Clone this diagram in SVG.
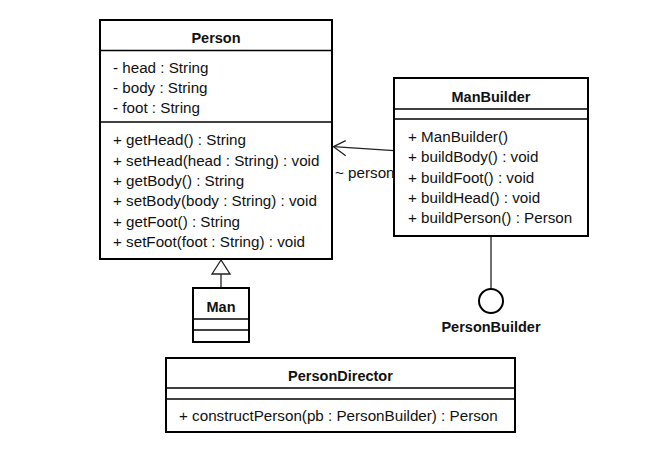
<svg xmlns="http://www.w3.org/2000/svg" width="668" height="456" viewBox="0 0 668 456">
<style>
.box{fill:#fff;stroke:#000;stroke-width:2}
.sep{stroke:#000;stroke-width:1.3;fill:none}
.t{font-family:"Liberation Sans",Arial,sans-serif;font-size:15.2px;fill:#111}
.b{font-family:"Liberation Sans",Arial,sans-serif;font-size:14.5px;font-weight:bold;fill:#111;text-anchor:middle}
.ln{stroke:#222;stroke-width:1.3;fill:none}
</style>
<rect width="668" height="456" fill="#fff"/>
<g id="connectors">
<line class="ln" x1="394" y1="150.7" x2="333.5" y2="146.7"/>
<polyline class="ln" points="345.7,140.7 333.5,146.7 345.7,155.7"/>
<text class="t" x="335" y="178">~ person</text>
<line class="ln" x1="221" y1="288" x2="221" y2="274"/>
<polygon points="221,260 212,274 230,274" fill="#fff" stroke="#222" stroke-width="1.3"/>
<line class="ln" x1="491" y1="236" x2="491" y2="289"/>
</g>
<g id="Person">
<rect class="box" x="100" y="20" width="232" height="239"/>
<line class="sep" x1="100" y1="50.5" x2="332" y2="50.5"/>
<line class="sep" x1="100" y1="122" x2="332" y2="122"/>
<text class="b" x="216" y="43">Person</text>
<text class="t" x="113" y="73">- head : String</text>
<text class="t" x="113" y="93">- body : String</text>
<text class="t" x="113" y="113">- foot : String</text>
<text class="t" x="113" y="145">+ getHead() : String</text>
<text class="t" x="113" y="165.5">+ setHead(head : String) : void</text>
<text class="t" x="113" y="186">+ getBody() : String</text>
<text class="t" x="113" y="206">+ setBody(body : String) : void</text>
<text class="t" x="113" y="226.5">+ getFoot() : String</text>
<text class="t" x="113" y="247">+ setFoot(foot : String) : void</text>
</g>
<g id="ManBuilder">
<rect class="box" x="394" y="78" width="194" height="158"/>
<line class="sep" x1="394" y1="109" x2="588" y2="109"/>
<line class="sep" x1="394" y1="119" x2="588" y2="119"/>
<text class="b" x="491" y="102">ManBuilder</text>
<text class="t" x="408" y="142">+ ManBuilder()</text>
<text class="t" x="408" y="162">+ buildBody() : void</text>
<text class="t" x="408" y="183">+ buildFoot() : void</text>
<text class="t" x="408" y="203">+ buildHead() : void</text>
<text class="t" x="408" y="223">+ buildPerson() : Person</text>
</g>
<g id="Man">
<rect class="box" x="193" y="288" width="56" height="54"/>
<line class="sep" x1="193" y1="319" x2="249" y2="319"/>
<line class="sep" x1="193" y1="330" x2="249" y2="330"/>
<text class="b" x="221" y="312">Man</text>
</g>
<g id="PersonBuilder">
<circle cx="491" cy="301" r="12" fill="#fff" stroke="#000" stroke-width="2"/>
<text class="b" x="491" y="332">PersonBuilder</text>
</g>
<g id="PersonDirector">
<rect class="box" x="166" y="358" width="349" height="74"/>
<line class="sep" x1="166" y1="388" x2="515" y2="388"/>
<line class="sep" x1="166" y1="399" x2="515" y2="399"/>
<text class="b" x="340.5" y="381">PersonDirector</text>
<text class="t" x="179" y="421">+ constructPerson(pb : PersonBuilder) : Person</text>
</g>
</svg>
